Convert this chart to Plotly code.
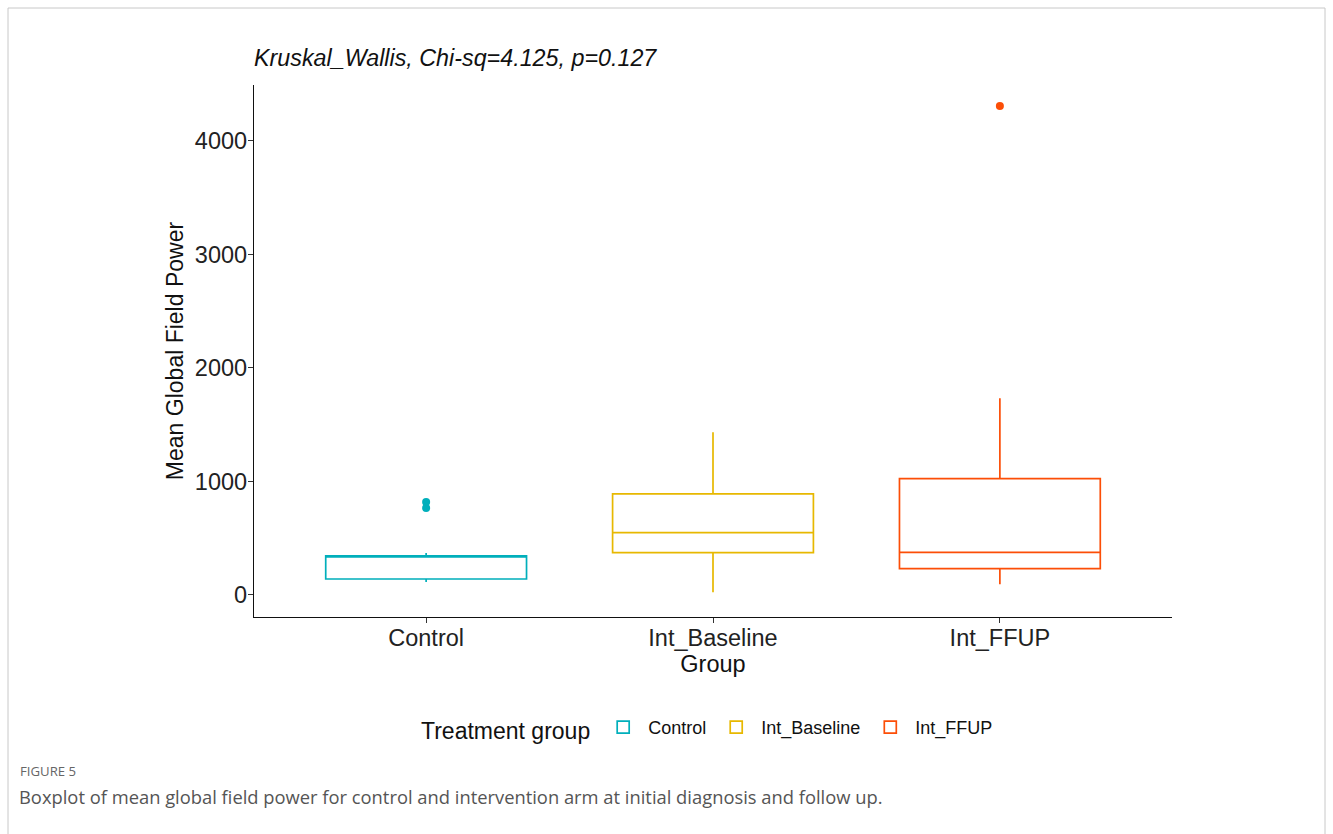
import plotly.graph_objects as go

groups = ["Control", "Int_Baseline", "Int_FFUP"]
colors = ["#00AFBB", "#E7B800", "#FC4E07"]
q1 = [141, 374, 232]
median = [340, 549, 376]
q3 = [344, 890, 1025]
lower = [115, 24, 94]
upper = [370, 1433, 1733]
outliers = {"Control": [767, 820], "Int_Baseline": [], "Int_FFUP": [4308]}

W, H = 1333, 834
x0, x1 = 254, 1172
y0, y1 = 85, 617
SANS = "Liberation Sans"

fig = go.Figure()
for i, g in enumerate(groups):
    fig.add_trace(go.Box(
        x=[g], q1=[q1[i]], median=[median[i]], q3=[q3[i]],
        lowerfence=[lower[i]], upperfence=[upper[i]],
        name=g, width=0.7, whiskerwidth=0,
        line=dict(color=colors[i], width=1.7), fillcolor="rgba(255,255,255,1)",
        boxpoints=False, showlegend=True,
    ))
    if outliers[g]:
        fig.add_trace(go.Scatter(
            x=[g] * len(outliers[g]), y=outliers[g], mode="markers",
            marker=dict(color=colors[i], size=8), showlegend=False, hoverinfo="y",
        ))

fig.update_layout(
    width=W, height=H,
    margin=dict(l=0, r=0, t=0, b=0),
    paper_bgcolor="white", plot_bgcolor="white",
    font=dict(family=SANS, color="#222"),
    boxmode="overlay",
    showlegend=True,
    legend=dict(
        orientation="h", x=419 / W, y=1 - 729 / H, xanchor="left", yanchor="middle",
        title=dict(text="Treatment group", font=dict(size=23, color="#111")),
        font=dict(size=18, color="#111"), itemwidth=40,
    ),
    xaxis=dict(
        domain=[x0 / W, x1 / W], range=[-0.6, 2.6], type="category",
        categoryorder="array", categoryarray=groups,
        showline=True, linecolor="#111", linewidth=1.3, mirror=False,
        ticks="outside", ticklen=5, tickcolor="#333", showgrid=False, zeroline=False,
        tickfont=dict(size=23.5, color="#222"), ticklabelstandoff=-5,
        title=dict(text="Group", font=dict(size=23.5, color="#111"), standoff=0),
    ),
    yaxis=dict(
        domain=[1 - y1 / H, 1 - y0 / H], range=[-194, 4493],
        tickvals=[0, 1000, 2000, 3000, 4000],
        showline=True, linecolor="#111", linewidth=1.3,
        ticks="outside", ticklen=5, tickcolor="#333", showgrid=False, zeroline=False,
        tickfont=dict(size=23.5, color="#222"), ticklabelstandoff=-4,
        title=dict(text="Mean Global Field Power", font=dict(size=23, color="#111"), standoff=4),
    ),
    annotations=[
        dict(text="<i>Kruskal_Wallis, Chi-sq=4.125, p=0.127</i>", x=252 / W, y=1 - 58 / H,
             xref="paper", yref="paper", xanchor="left", yanchor="middle", showarrow=False,
             font=dict(size=23.3, color="#111")),
        dict(text="FIGURE 5", x=18 / W, y=1 - 771 / H, xref="paper", yref="paper",
             xanchor="left", yanchor="middle", showarrow=False,
             font=dict(family="Open Sans", size=13.2, color="#666")),
        dict(text="Boxplot of mean global field power for control and intervention arm at initial diagnosis and follow up.",
             x=17 / W, y=1 - 796 / H, xref="paper", yref="paper",
             xanchor="left", yanchor="middle", showarrow=False,
             font=dict(family="Open Sans", size=18.35, color="#555")),
    ],
    shapes=[
        dict(type="rect", xref="paper", yref="paper", x0=8 / W, x1=1325 / W, y0=-0.05, y1=1 - 8 / H,
             line=dict(color="#c8c8c8", width=1)),
    ],
)

fig.write_html("out.html")
